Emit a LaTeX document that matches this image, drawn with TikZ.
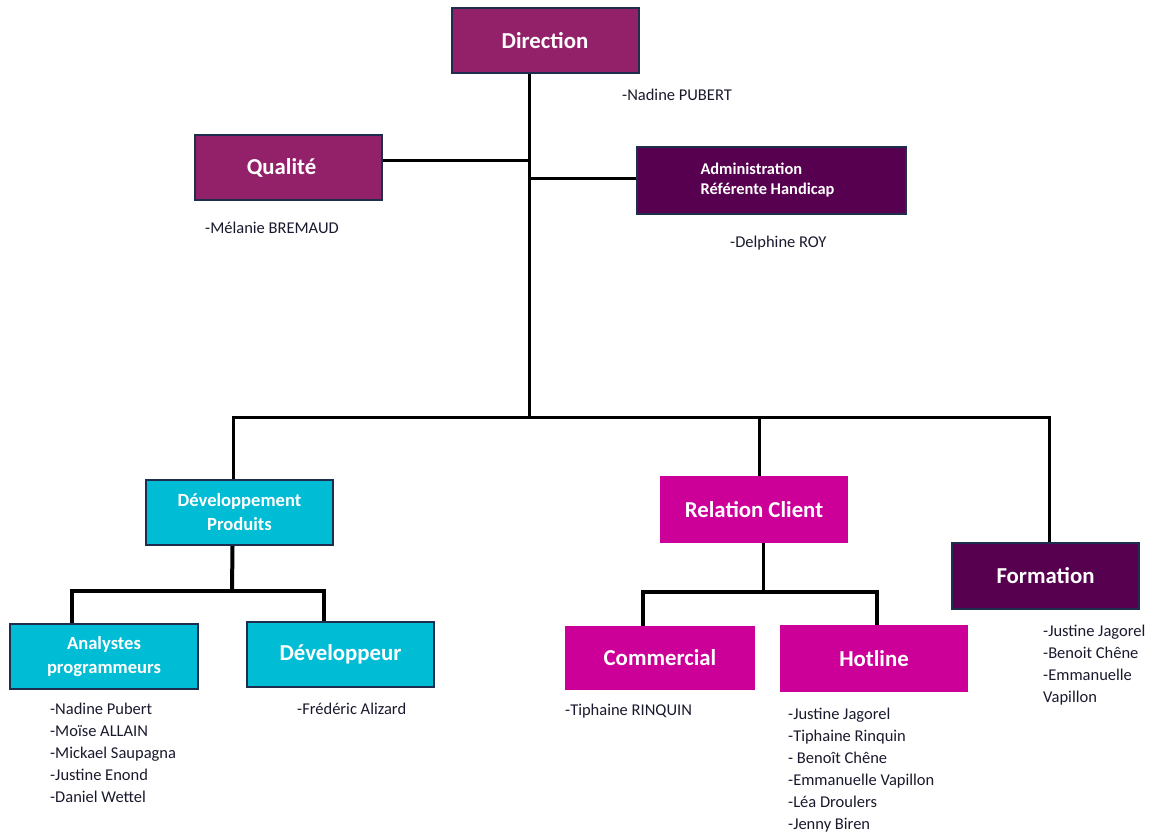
\documentclass[tikz,border=0pt]{standalone}
\usepackage{fontspec}
\setmainfont{Carlito}
\usepackage{tikz}
\usetikzlibrary{positioning}
\definecolor{prune}{RGB}{147, 33, 106}
\definecolor{aubergine}{RGB}{88, 0, 80}
\definecolor{turquoise}{RGB}{0, 188, 212}
\definecolor{fuchsia}{RGB}{204, 0, 153}
\definecolor{marine}{RGB}{31, 45, 78}
\definecolor{encre}{RGB}{25, 25, 45}
\tikzset{
    pole/.style={rectangle, text=white, inner sep=0pt, minimum width=187pt, minimum height=65pt, font=\bfseries\fontsize{22.8}{26}\selectfont},
    dirBox/.style={pole, fill=prune, draw=marine, line width=2pt},
    adminBox/.style={pole, fill=aubergine, draw=marine, line width=2pt},
    devBox/.style={pole, fill=turquoise, draw=marine, line width=2pt},
    relBox/.style={pole, fill=fuchsia},
    twoLines/.style={font=\bfseries\fontsize{18.6}{24}\selectfont},
    nom/.style={anchor=west, inner sep=0pt, text=encre, font=\fontsize{16.5}{22}\selectfont},
    nomList/.style={nom, anchor=north west, align=left},
    conn/.style={-, black, line width=3pt},
    connLow/.style={-, black, line width=4pt},
}
\begin{document}
\begin{tikzpicture}[x=1pt, y=-1pt]
            \useasboundingbox (0,0) rectangle (1155,834);

            % top level
            \node[dirBox] (dir) at (545, 40.5) {Direction};
            \node[dirBox] (qual) at (288.5, 167.5) {\hspace*{-14pt}Qualité};
            \node[adminBox, minimum width=269pt, minimum height=67pt, align=left,
                  font=\bfseries\fontsize{16.4}{20}\selectfont] (admin) at (771.5, 180.5) {Administration\\Référente Handicap\hspace*{8pt}};

            % services
            \node[devBox, twoLines, align=center] (devprod) at (239.5, 512.5) {Développement\\Produits};
            \node[relBox, minimum width=188pt, minimum height=67pt] (relcli) at (754, 509.5) {Relation Client};
            \node[adminBox, minimum height=66pt] (form) at (1045.5, 576) {Formation};

            % teams
            \node[devBox, twoLines, align=center, minimum width=188pt] (analyst) at (104, 656.5) {Analystes\\programmeurs};
            \node[devBox] (dev) at (340.5, 654.5) {Développeur};
            \node[relBox, minimum width=190pt, minimum height=64pt] (comm) at (660, 658) {Commercial};
            \node[relBox, minimum width=188pt, minimum height=67pt] (hot) at (874, 658.5) {Hotline};

            % people
            \node[nom] (nPubert) at (622, 95) {-Nadine PUBERT};
            \node[nom] (nBremaud) at (205, 228) {-Mélanie BREMAUD};
            \node[nom] (nRoy) at (730, 243) {-Delphine ROY};
            \node[nomList] (nAnalyst) at (50, 703) {-Nadine Pubert\\-Moïse ALLAIN\\-Mickael Saupagna\\-Justine Enond\\-Daniel Wettel};
            \node[nom] (nAlizard) at (297, 709) {-Frédéric Alizard};
            \node[nom] (nRinquin) at (565, 711) {-Tiphaine RINQUIN};
            \node[nomList] (nHot) at (788, 708) {-Justine Jagorel\\-Tiphaine Rinquin\\- Benoît Chêne\\-Emmanuelle Vapillon\\-Léa Droulers\\-Jenny Biren};
            \node[nomList] (nForm) at (1043, 625) {-Justine Jagorel\\-Benoit Chêne\\-Emmanuelle\\Vapillon};

            \coordinate (trunk) at (529, 417);
            \coordinate (dpFork) at (232, 591);
            \coordinate (rcFork) at (763, 592);

            \draw[conn] (dir.south -| trunk) -- (trunk);
            \draw[conn] ([yshift=7pt]qual.east) -- ([yshift=7pt]qual.east -| trunk);
            \draw[conn] ([yshift=2pt]admin.west) -- ([yshift=2pt]admin.west -| trunk);
            \draw[conn] ([xshift=-6pt]devprod.north) |- (trunk) -| ([xshift=4pt]form.north);
            \draw[conn] ([xshift=5pt]relcli.north) -- ([xshift=5pt]relcli.north |- trunk);
            \draw[connLow] ([xshift=-7pt]devprod.south) -- (dpFork);
            \draw[connLow] ([xshift=-32pt]analyst.north) |- (dpFork) -| ([xshift=-17pt]dev.north);
            \draw[conn] ([xshift=9pt]relcli.south) -- (rcFork);
            \draw[connLow] ([xshift=-17pt]comm.north) |- (rcFork) -| ([xshift=3pt]hot.north);
        \end{tikzpicture}
\end{document}
